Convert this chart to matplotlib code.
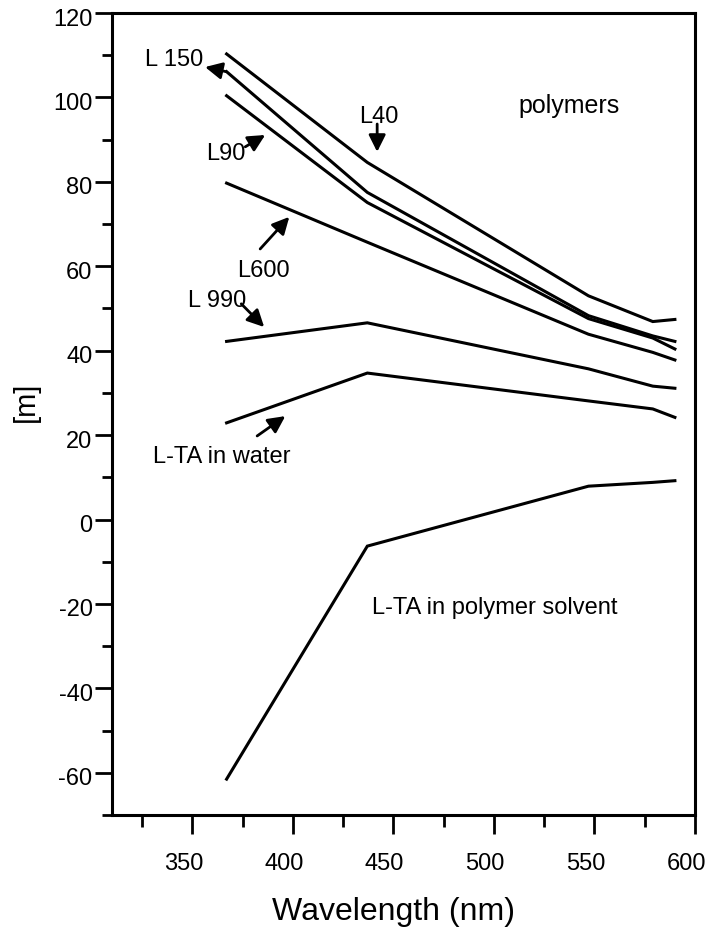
"""
Optical rotation [m] vs wavelength for L-TA polymers and the free monomer.

Curves: polymers L40, L150, L90, L600, L990 plus L-TA in water and
L-TA in polymer solvent. Writes out.png.
"""
from __future__ import annotations

import matplotlib
matplotlib.use("Agg")
import matplotlib.pyplot as plt
import matplotlib.transforms as mtransforms
import numpy as np

OUT_FIG = "out.png"

WAVELENGTH = [367, 437, 547, 579, 590]

L40 = [110.3, 84.6, 53.0, 46.9, 47.4]
L150 = [106.1, 77.5, 48.3, 43.5, 42.2]
L90 = [100.4, 75.1, 47.6, 43.0, 40.4]
L600 = [79.7, 65.7, 43.9, 39.6, 37.8]
L990 = [42.2, 46.6, 35.7, 31.6, 31.1]
LTA_WATER = [22.9, 34.7, 28.1, 26.2, 24.2]
LTA_SOLVENT = [-61.5, -6.3, 7.9, 8.8, 9.2]

SERIES = [L40, L150, L90, L600, L990, LTA_WATER, LTA_SOLVENT]

FONT = ["Liberation Sans", "DejaVu Sans"]


def arrow(ax, tail, tip):
    ax.annotate(
        "",
        xy=tip,
        xytext=tail,
        arrowprops=dict(arrowstyle="-|>,head_length=0.6,head_width=0.3", lw=2.0, color="black",
                        shrinkA=0, shrinkB=0, mutation_scale=17),
    )


def main() -> None:
    plt.rcParams["font.family"] = FONT
    plt.rcParams["axes.unicode_minus"] = False
    fig = plt.figure(figsize=(7.06, 9.29), dpi=100)
    ax = fig.add_axes([112 / 706, 1 - 816 / 929, 583 / 706, 802 / 929])

    for ys in SERIES:
        ax.plot(WAVELENGTH, ys, color="black", lw=2.2, solid_joinstyle="miter")

    ax.set_xlim(310, 600)
    ax.set_ylim(-70, 120)
    ax.set_xticks(np.arange(350, 601, 50))
    ax.set_xticks(np.arange(325, 600, 50), minor=True)
    ax.set_yticks(np.arange(-60, 121, 20))
    ax.set_yticks([v for v in range(-70, 120, 10) if v % 20 != 0], minor=True)

    for s in ax.spines.values():
        s.set_linewidth(2.2)

    ax.tick_params(axis="x", which="major", direction="out", length=14, width=2.0, pad=13, labelsize=17)
    ax.tick_params(axis="x", which="minor", direction="out", length=8.5, width=2.0)
    ax.tick_params(axis="y", which="major", direction="out", length=12, width=2.0, pad=2, labelsize=17)
    ax.tick_params(axis="y", which="minor", direction="out", length=7, width=2.0)

    # tick labels sit a little off their ticks
    dx = mtransforms.ScaledTranslation(-0.09, 0, fig.dpi_scale_trans)
    for lab in ax.get_xticklabels():
        lab.set_transform(lab.get_transform() + dx)
    dy = mtransforms.ScaledTranslation(0, -0.03, fig.dpi_scale_trans)
    for lab in ax.get_yticklabels():
        lab.set_transform(lab.get_transform() + dy)

    # curve labels
    kw = dict(ha="center", va="center", fontsize=17)
    ax.text(341, 109.1, "L 150", **kw)
    arrow(ax, (366.8, 106.1), (356.3, 107.2))
    ax.text(366.8, 86.8, "L90", **kw)
    arrow(ax, (376.3, 88.3), (386.2, 91.1))
    ax.text(442.5, 95.6, "L40", **kw)
    arrow(ax, (441.9, 93.7), (441.9, 87.1))
    ax.text(537.2, 98.2, "polymers", ha="center", va="center", fontsize=18)
    ax.text(385.2, 59.1, "L600", **kw)
    arrow(ax, (383.7, 64.1), (398.2, 71.7))
    ax.text(362.3, 52.0, "L 990", **kw)
    arrow(ax, (374.3, 51.1), (385.7, 45.6))
    ax.text(364.8, 15.0, "L-TA in water", **kw)
    arrow(ax, (382.2, 19.8), (396.2, 24.5))
    ax.text(500.3, -20.7, "L-TA in polymer solvent", **kw)

    fig.text(26 / 706, 1 - 402 / 929, "[m]", rotation=90, ha="center", va="center", fontsize=21)
    fig.text(393 / 706, 1 - 912 / 929, "Wavelength (nm)", ha="center", va="center", fontsize=23)

    fig.savefig(OUT_FIG, dpi=100)
    plt.close(fig)


if __name__ == "__main__":
    main()
